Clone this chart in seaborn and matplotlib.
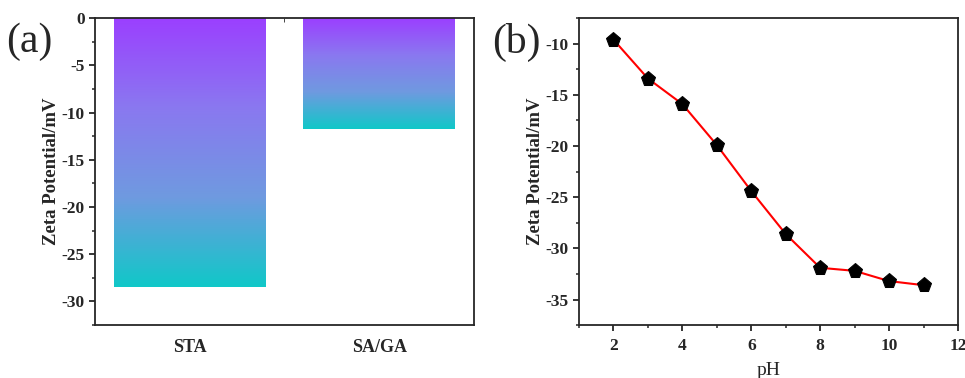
#load libraries
import numpy as np
import pandas as pd
import seaborn as sns
import matplotlib.pyplot as plt
from matplotlib.colors import LinearSegmentedColormap

#data
samples = ['STA', 'SA/GA']
zeta_bar = [-28.5, -11.7]
ph = [2, 3, 4, 5, 6, 7, 8, 9, 10, 11]
zeta_ph = [-9.6, -13.4, -15.9, -19.9, -24.4, -28.6, -31.9, -32.2, -33.2, -33.6]

sns.set_style('ticks')
plt.rcParams['font.family'] = ['Liberation Serif', 'DejaVu Serif']
plt.rcParams['axes.linewidth'] = 1.3
plt.rcParams['axes.unicode_minus'] = False

fig = plt.figure(figsize=(9.65, 3.78), dpi=100)
ax1 = fig.add_axes([0.0984, 0.140, 0.3927, 0.812])
ax2 = fig.add_axes([0.600, 0.140, 0.3927, 0.812])

#(a) bar chart with vertical gradient fill
bars_df = pd.DataFrame({'sample': samples, 'zeta': zeta_bar})
sns.barplot(data=bars_df, x='sample', y='zeta', ax=ax1, width=0.8, color='none')
grad = LinearSegmentedColormap.from_list('grad', ['#10c8c8', '#6f9ae0', '#8a78f0', '#9b3fff'])
for bar in ax1.patches:
    x0, w = bar.get_x(), bar.get_width()
    y0, h = bar.get_y(), bar.get_height()
    img = ax1.imshow(np.linspace(0, 1, 256).reshape(-1, 1), cmap=grad, aspect='auto',
                     origin='lower', extent=[x0, x0 + w, min(y0, y0 + h), max(y0, y0 + h)],
                     zorder=1)
    img.set_clip_path(bar)
    bar.set_edgecolor('none')
ax1.set_xlim(-0.5, 1.5)
ax1.set_ylim(-32.5, 0)
ax1.set_yticks([0, -5, -10, -15, -20, -25, -30])
ax1.set_yticks(np.arange(-32.5, 0.1, 2.5), minor=True)
ax1.set_xticks([0.5], minor=True)
ax1.tick_params(axis='x', bottom=False, top=True, direction='in', length=5, width=1.3,
                labelsize=13, pad=10)
ax1.tick_params(axis='x', which='minor', bottom=False, top=True, direction='in', length=3)
ax1.tick_params(axis='y', direction='out', length=4, width=1.3, labelsize=12.5)
ax1.tick_params(axis='y', which='minor', direction='out', length=2.5, width=1.1)
ax1.set_xlabel('')
ax1.set_ylabel('Zeta Potential/mV', fontsize=13.5, fontweight='bold', labelpad=1)
for lab in ax1.get_xticklabels() + ax1.get_yticklabels():
    lab.set_fontweight('bold')
for s in ax1.spines.values():
    s.set_visible(True)
    s.set_zorder(3)
ax1.text(-0.235, 0.985, '(a)', transform=ax1.transAxes, fontsize=30, va='top', ha='left')

#(b) zeta potential vs pH
line_df = pd.DataFrame({'pH': ph, 'zeta': zeta_ph})
sns.lineplot(data=line_df, x='pH', y='zeta', ax=ax2, color='red', linewidth=1.5,
             marker='p', markersize=11, markerfacecolor='black', markeredgecolor='black')
ax2.set_xlim(1, 12)
ax2.set_ylim(-37.5, -7.5)
ax2.set_xticks([2, 4, 6, 8, 10, 12])
ax2.set_xticks(np.arange(1, 12.1, 1), minor=True)
ax2.set_yticks([-10, -15, -20, -25, -30, -35])
ax2.set_yticks(np.arange(-37.5, -7.4, 2.5), minor=True)
ax2.tick_params(axis='both', direction='out', length=4, width=1.3, labelsize=12.5)
ax2.tick_params(axis='x', pad=5)
ax2.tick_params(axis='both', which='minor', direction='out', length=2.5, width=1.1)
ax2.set_xlabel('pH', fontsize=14, labelpad=6)
ax2.set_ylabel('Zeta Potential/mV', fontsize=13.5, fontweight='bold', labelpad=1)
for lab in ax2.get_xticklabels() + ax2.get_yticklabels():
    lab.set_fontweight('bold')
for s in ax2.spines.values():
    s.set_visible(True)
ax2.text(-0.23, 0.985, '(b)', transform=ax2.transAxes, fontsize=30, va='top', ha='left')

fig.savefig('out.png', dpi=100)
